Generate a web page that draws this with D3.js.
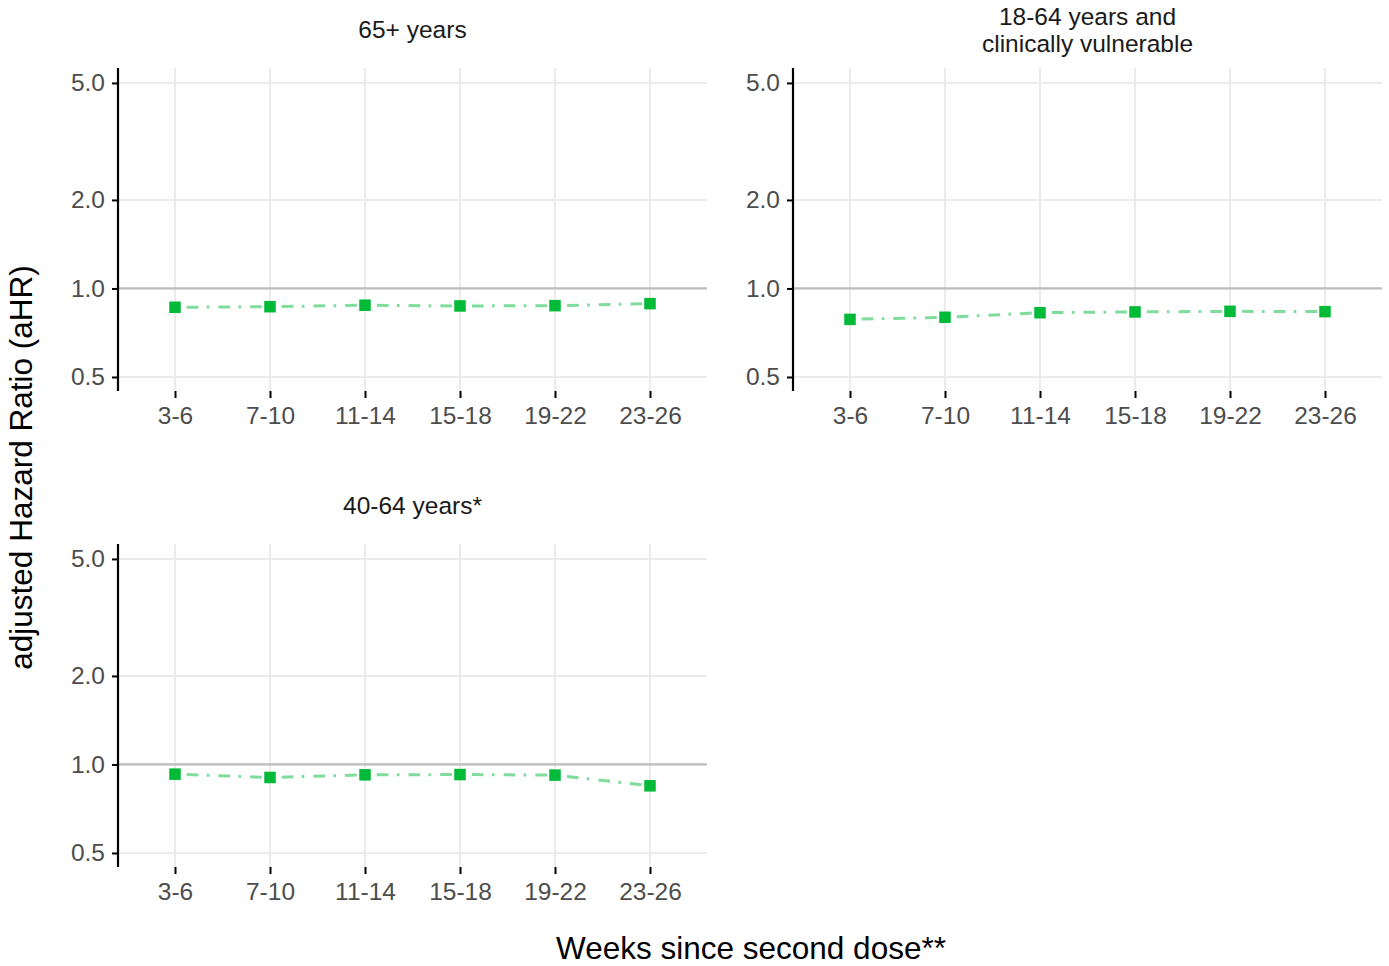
<!DOCTYPE html>
<html>
<head>
<meta charset="utf-8">
<script src="https://cdn.jsdelivr.net/npm/d3@7"></script>
<style>
  html, body { margin: 0; padding: 0; background: #ffffff; }
  svg { display: block; font-family: "Liberation Sans", Arial, Helvetica, sans-serif; }
</style>
</head>
<body>
<svg id="chart" width="1389" height="966"></svg>
<script>
// ---- data ----
const categories = ["3-6", "7-10", "11-14", "15-18", "19-22", "23-26"];
const yTicks = [0.5, 1.0, 2.0, 5.0];
const referenceValue = 1.0;
const panelTitles = [
  ["65+ years"],
  ["18-64 years and", "clinically vulnerable"],
  ["40-64 years*"]
];
const aHR_65plus = [0.863, 0.867, 0.877, 0.872, 0.874, 0.888];
const aHR_18_64_vulnerable = [0.785, 0.798, 0.827, 0.832, 0.836, 0.834];
const aHR_40_64 = [0.927, 0.903, 0.922, 0.924, 0.920, 0.846];
const xTitle = "Weeks since second dose**";
const yTitle = "adjusted Hazard Ratio (aHR)";

// ---- layout ----
const panels = [
  { title: panelTitles[0], values: aHR_65plus, x0: 118, x1: 707, y0: 68, y1: 391 },
  { title: panelTitles[1], values: aHR_18_64_vulnerable, x0: 793, x1: 1382, y0: 68, y1: 391 },
  { title: panelTitles[2], values: aHR_40_64, x0: 118, x1: 707, y0: 544, y1: 867 }
];
const yDomain = [0.448, 5.62];
const pointColor = "#00BA38";
const lineColor = "#80dc9c";

const svg = d3.select("#chart");

panels.forEach(p => {
  const g = svg.append("g");
  const x = d3.scalePoint().domain(categories).range([p.x0, p.x1]).padding(0.6);
  const y = d3.scaleLog().domain(yDomain).range([p.y1, p.y0]);

  // grid
  g.append("g").selectAll("line.v").data(categories).join("line")
    .attr("x1", d => x(d)).attr("x2", d => x(d))
    .attr("y1", p.y0).attr("y2", p.y1)
    .attr("stroke", "#ebebeb").attr("stroke-width", 2);
  g.append("g").selectAll("line.h").data(yTicks).join("line")
    .attr("x1", p.x0).attr("x2", p.x1)
    .attr("y1", d => y(d)).attr("y2", d => y(d))
    .attr("stroke", "#ebebeb").attr("stroke-width", 2);

  // reference line
  g.append("line")
    .attr("x1", p.x0).attr("x2", p.x1)
    .attr("y1", y(referenceValue)).attr("y2", y(referenceValue))
    .attr("stroke", "#bebebe").attr("stroke-width", 2.2);

  // y axis
  const yAxis = d3.axisLeft(y).tickValues(yTicks).tickFormat(d3.format(".1f")).tickSize(6).tickPadding(7);
  const ya = g.append("g").attr("transform", `translate(${p.x0},0)`).call(yAxis);
  ya.select(".domain").remove();
  ya.selectAll(".tick line").attr("stroke", "#000").attr("stroke-width", 2);
  ya.selectAll(".tick text").attr("fill", "#4d4d4d").attr("font-size", 24.5)
    .attr("font-family", "Liberation Sans, Arial, sans-serif");
  g.append("line")
    .attr("x1", p.x0).attr("x2", p.x0).attr("y1", p.y0).attr("y2", p.y1)
    .attr("stroke", "#000").attr("stroke-width", 2.2);

  // x axis
  const xAxis = d3.axisBottom(x).tickSize(7).tickPadding(9);
  const xa = g.append("g").attr("transform", `translate(0,${p.y1})`).call(xAxis);
  xa.select(".domain").remove();
  xa.selectAll(".tick line").attr("stroke", "#000").attr("stroke-width", 2);
  xa.selectAll(".tick text").attr("fill", "#4d4d4d").attr("font-size", 24.5)
    .attr("font-family", "Liberation Sans, Arial, sans-serif");

  // series line
  const line = d3.line().x((d, i) => x(categories[i])).y(d => y(d));
  g.append("path").datum(p.values)
    .attr("d", line).attr("fill", "none")
    .attr("stroke", lineColor).attr("stroke-width", 3)
    .attr("stroke-dasharray", "2.7,9,11.7,8.3");

  // points
  const s = 11.5;
  g.append("g").selectAll("rect").data(p.values).join("rect")
    .attr("x", (d, i) => x(categories[i]) - s / 2)
    .attr("y", d => y(d) - s / 2)
    .attr("width", s).attr("height", s)
    .attr("fill", pointColor);

  // strip title
  const cx = (p.x0 + p.x1) / 2;
  const n = p.title.length;
  const lh = 27;
  const centerBase = p.y0 - 30;
  p.title.forEach((t, i) => {
    g.append("text")
      .attr("x", cx)
      .attr("y", centerBase + (i - (n - 1) / 2) * lh)
      .attr("text-anchor", "middle")
      .attr("font-size", 24.5)
      .attr("fill", "#1a1a1a")
      .text(t);
  });
});

// axis titles
svg.append("text")
  .attr("x", 751).attr("y", 959)
  .attr("text-anchor", "middle")
  .attr("font-size", 31.5)
  .attr("fill", "#000")
  .text(xTitle);

svg.append("text")
  .attr("transform", "translate(32,467.5) rotate(-90)")
  .attr("text-anchor", "middle")
  .attr("font-size", 31.5)
  .attr("fill", "#000")
  .text(yTitle);
</script>
</body>
</html>
